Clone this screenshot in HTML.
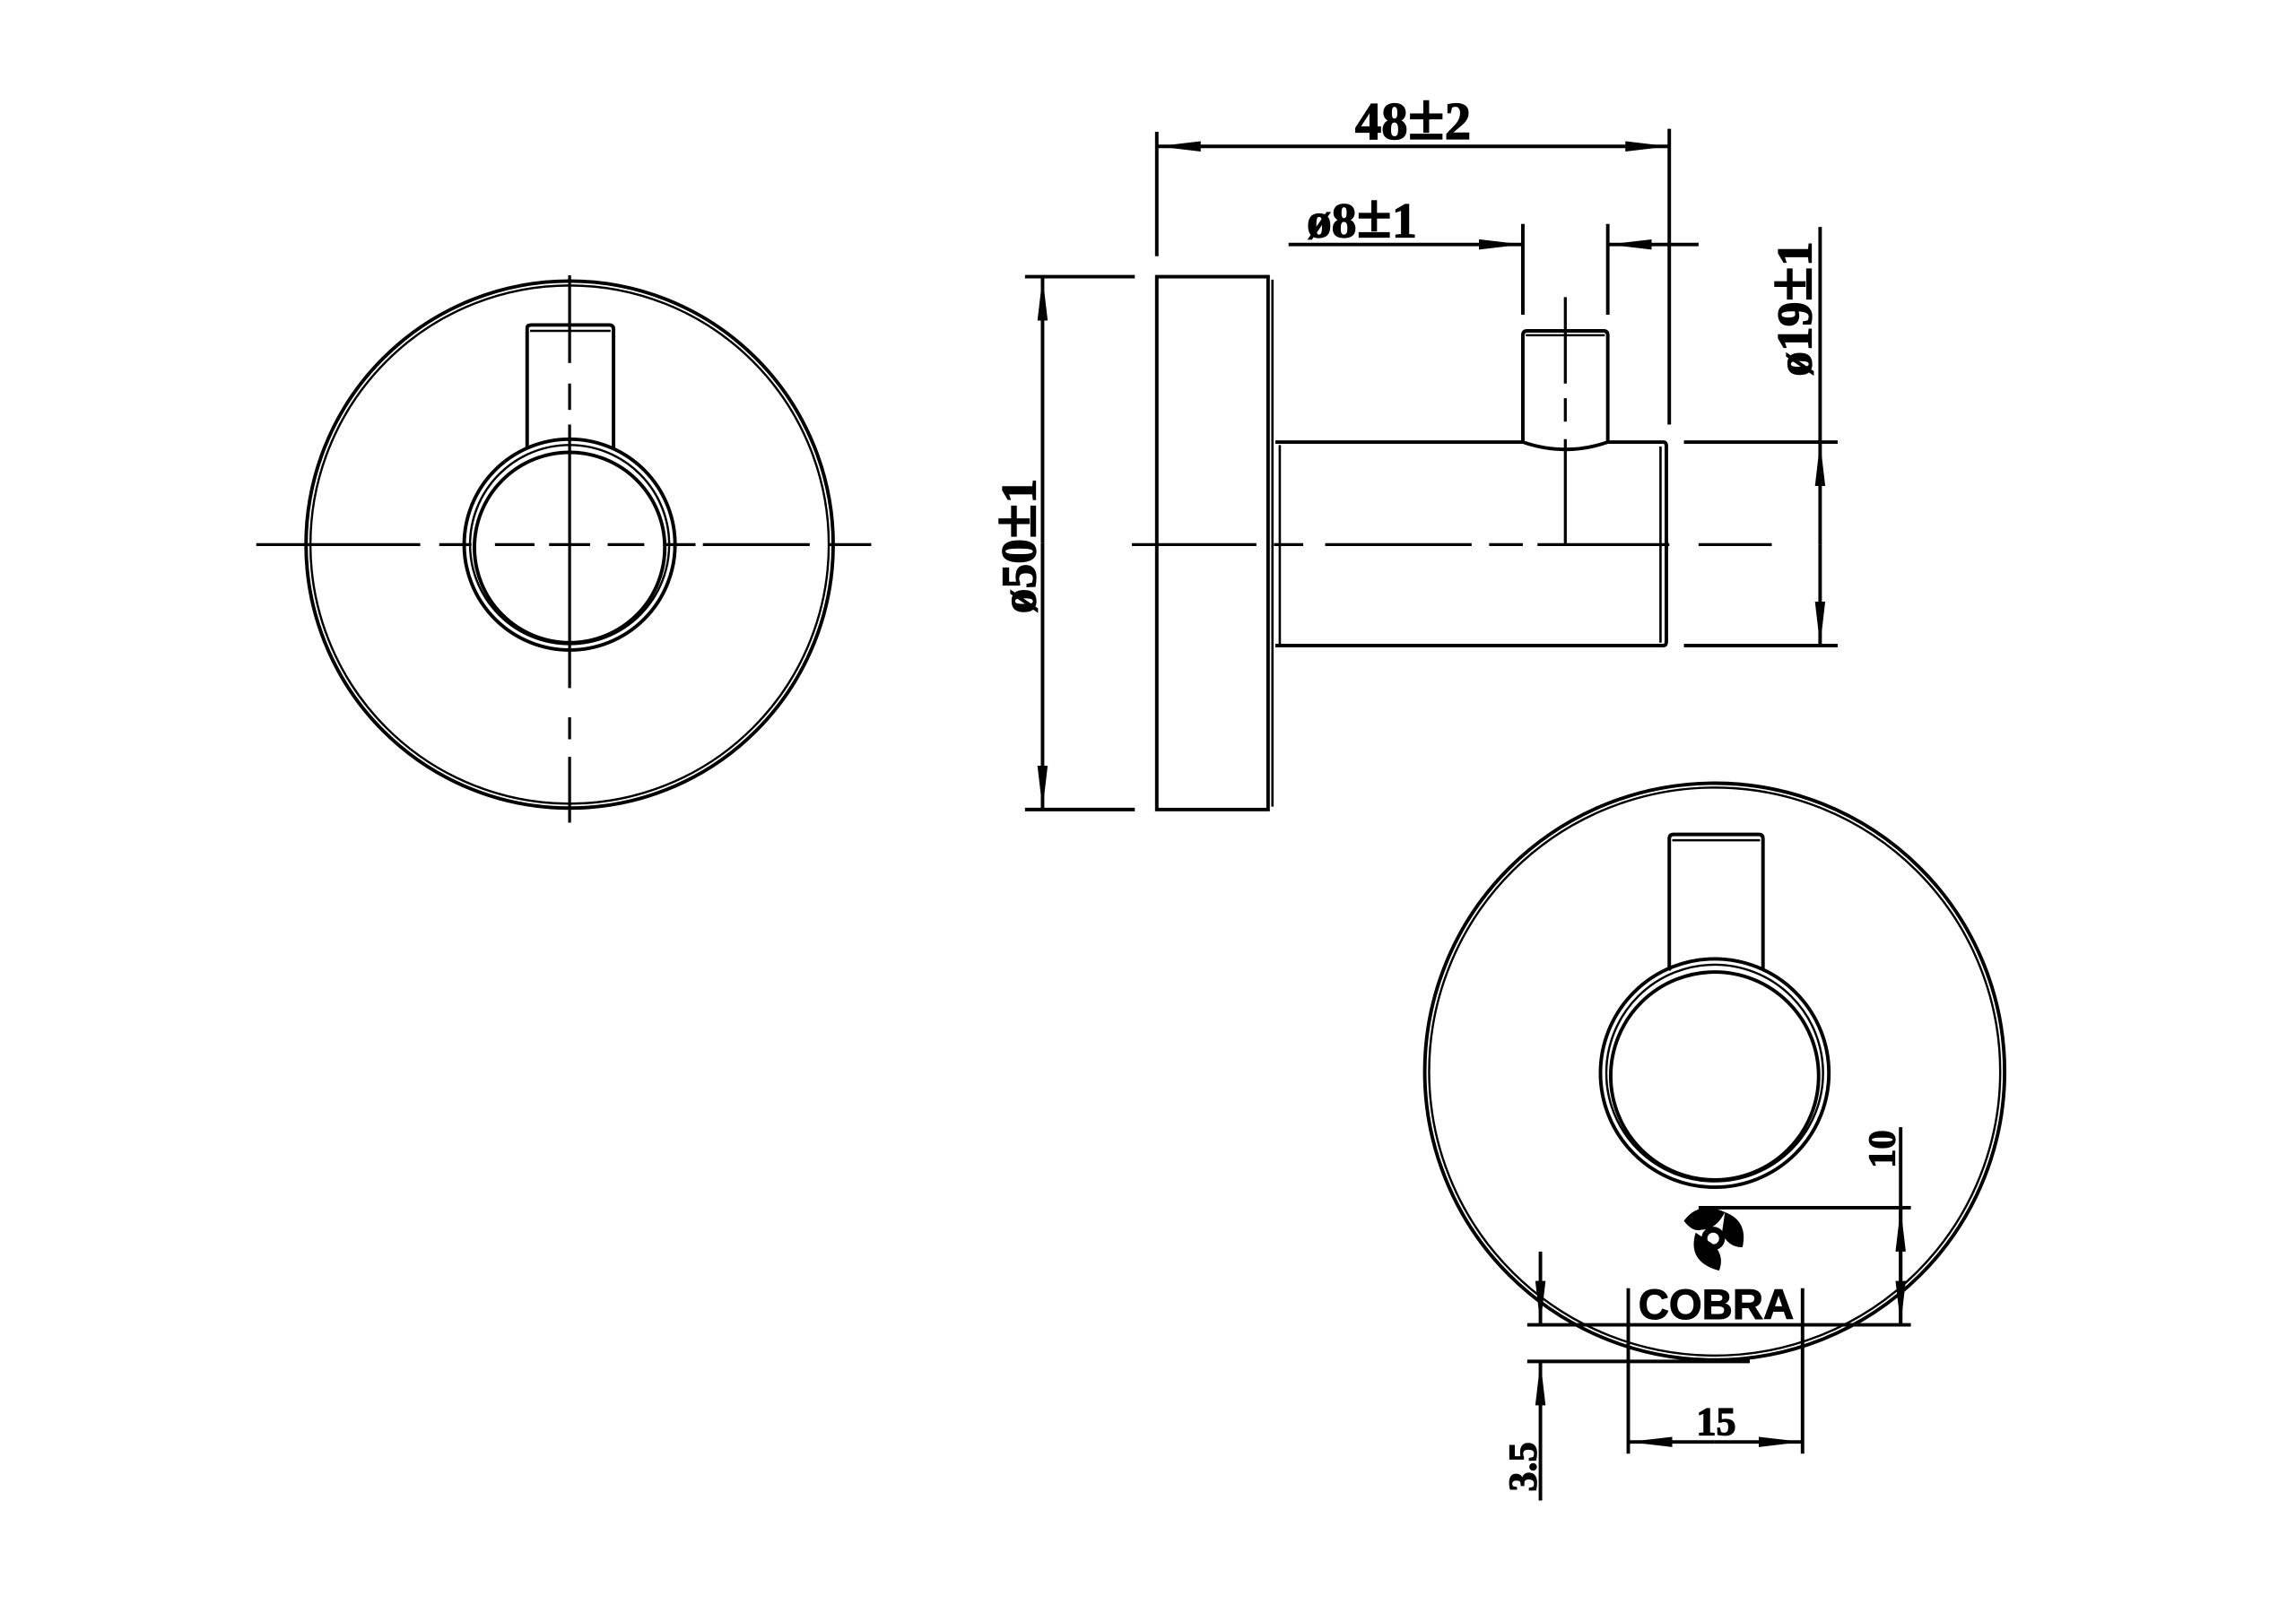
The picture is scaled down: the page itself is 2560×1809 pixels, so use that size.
<!DOCTYPE html>
<html><head><meta charset="utf-8"><style>
html,body{margin:0;padding:0;background:#fff}
svg{display:block}
text{font-family:"Liberation Serif",serif;font-weight:bold;fill:#000}
</style></head><body>
<svg width="2560" height="1809" viewBox="0 0 1568 1108" preserveAspectRatio="none" xmlns="http://www.w3.org/2000/svg">
<defs>
<marker id="a" viewBox="0 0 30 8" refX="30" refY="4" markerWidth="30" markerHeight="8" markerUnits="userSpaceOnUse" orient="auto"><path d="M0,0.5 L30,4 L0,7.5 Z" fill="#000"/></marker>
</defs>
<g stroke="#000" fill="none" stroke-width="2.4">
<!-- LEFT VIEW -->
<circle cx="389" cy="372" r="180"/>
<circle cx="389" cy="372" r="177" stroke-width="1.5"/>
<path d="M360,306 L360,224 Q360,222 363,222 L416,222 Q419,222 419,225 L419,306"/>
<line x1="362" y1="226" x2="417" y2="226" stroke-width="1.5"/>
<circle cx="389" cy="372" r="72"/>
<circle cx="389" cy="372" r="68" stroke-width="1.5"/>
<circle cx="389" cy="374" r="65"/>
<path d="M175,372 H287 M300,372 H322 M338,372 H365 M375,372 H403 M415,372 H440 M455,372 H475 M480,372 H553 M566,372 H595" stroke-width="2"/>
<path d="M389,188 V248 M389,262 V280 M389,290 V470 M389,490 V505 M389,517 V562" stroke-width="2"/>

<!-- SIDE VIEW -->
<rect x="790" y="189" width="76" height="364"/>
<line x1="869" y1="191" x2="869" y2="551" stroke-width="1.6"/>
<path d="M871,302 H1040 Q1069,312 1098,302 H1136 Q1138,302 1138,305 V438 Q1138,441 1136,441 H871"/>
<line x1="874" y1="304" x2="874" y2="440" stroke-width="1.6"/>
<line x1="1134" y1="305" x2="1134" y2="439" stroke-width="1.6"/>
<path d="M1040,302 V229 Q1040,226 1043,226 H1095 Q1098,226 1098,229 V302"/>
<line x1="1042" y1="229" x2="1096" y2="229" stroke-width="1.5"/>
<path d="M773,372 H858 M870,372 H890 M905,372 H1005 M1017,372 H1040 M1050,372 H1140 M1160,372 H1210" stroke-width="2"/>
<path d="M1069,203 V262 M1069,272 V288 M1069,300 V372" stroke-width="2"/>

<!-- 48±2 -->
<line x1="790" y1="90" x2="790" y2="175"/>
<line x1="1140" y1="88" x2="1140" y2="290"/>
<line x1="820" y1="100" x2="790" y2="100" marker-end="url(#a)"/>
<line x1="1110" y1="100" x2="1140" y2="100" marker-end="url(#a)"/>
<line x1="820" y1="100" x2="1110" y2="100"/>
<!-- ø8±1 -->
<line x1="880" y1="167" x2="1040" y2="167" marker-end="url(#a)"/>
<line x1="1040" y1="153" x2="1040" y2="215"/>
<line x1="1098" y1="153" x2="1098" y2="215"/>
<line x1="1160" y1="167" x2="1098" y2="167" marker-end="url(#a)"/>
<!-- ø50±1 -->
<line x1="700" y1="189" x2="775" y2="189"/>
<line x1="700" y1="553" x2="775" y2="553"/>
<line x1="712" y1="371" x2="712" y2="189" marker-end="url(#a)"/>
<line x1="712" y1="371" x2="712" y2="553" marker-end="url(#a)"/>
<!-- ø19±1 -->
<line x1="1150" y1="302" x2="1255" y2="302"/>
<line x1="1150" y1="441" x2="1255" y2="441"/>
<line x1="1243" y1="155" x2="1243" y2="302"/>
<line x1="1243" y1="372" x2="1243" y2="302" marker-end="url(#a)"/>
<line x1="1243" y1="372" x2="1243" y2="441" marker-end="url(#a)"/>

<!-- BOTTOM VIEW -->
<ellipse cx="1171" cy="732" rx="198" ry="197"/>
<ellipse cx="1171" cy="732" rx="195" ry="194" stroke-width="1.5"/>
<path d="M1140,663 V573 Q1140,570 1143,570 H1201 Q1204,570 1204,573 V663"/>
<line x1="1142" y1="574" x2="1202" y2="574" stroke-width="1.5"/>
<circle cx="1171" cy="733" r="78"/>
<circle cx="1171" cy="733" r="74" stroke-width="1.5"/>
<circle cx="1171" cy="735" r="71"/>
<!-- 10 -->
<line x1="1160" y1="825" x2="1305" y2="825"/>
<line x1="1043" y1="905" x2="1305" y2="905"/>
<line x1="1298" y1="770" x2="1298" y2="905"/>
<line x1="1298" y1="865" x2="1298" y2="825" marker-end="url(#a)"/>
<line x1="1298" y1="865" x2="1298" y2="905" marker-end="url(#a)"/>
<!-- 3.5 -->
<line x1="1043" y1="930" x2="1195" y2="930"/>
<line x1="1052" y1="855" x2="1052" y2="905" marker-end="url(#a)"/>
<line x1="1052" y1="1025" x2="1052" y2="930" marker-end="url(#a)"/>
<!-- 15 -->
<line x1="1112" y1="880" x2="1112" y2="993"/>
<line x1="1231" y1="880" x2="1231" y2="993"/>
<line x1="1171" y1="985" x2="1112" y2="985" marker-end="url(#a)"/>
<line x1="1171" y1="985" x2="1231" y2="985" marker-end="url(#a)"/>
</g>
<!-- logo -->
<g fill="#000">
<path d="M1150,834 Q1160,820 1178,828 Q1172,840 1162,840 Q1156,842 1150,834 Z"/>
<path d="M1178,828 Q1194,834 1190,852 Q1180,852 1176,842 Z"/>
<path d="M1158,842 Q1152,862 1174,868 Q1178,858 1170,850 Z"/>
<circle cx="1170" cy="846" r="6" fill="none" stroke="#000" stroke-width="4"/>
</g>
<text x="1172" y="901" font-size="29" text-anchor="middle" style="font-family:'Liberation Sans',sans-serif;font-weight:900" stroke="#000" stroke-width="0.6">COBRA</text>
<g stroke="#000" stroke-width="0.8">
<text x="965" y="95" font-size="36" text-anchor="middle">48<tspan font-size="46">±</tspan>2</text>
<text x="930" y="162" font-size="34" text-anchor="middle">ø8<tspan font-size="44">±</tspan>1</text>
<text transform="translate(707,373) rotate(-90)" font-size="34" text-anchor="middle">ø50<tspan font-size="44">±</tspan>1</text>
<text transform="translate(1237,211) rotate(-90)" font-size="34" text-anchor="middle">ø19<tspan font-size="44">±</tspan>1</text>
<text transform="translate(1294,785) rotate(-90)" font-size="26" text-anchor="middle">10</text>
<text transform="translate(1049,1002) rotate(-90)" font-size="27" text-anchor="middle">3.5</text>
<text x="1172" y="980" font-size="27" text-anchor="middle">15</text>
</g>
</svg>
</body></html>
